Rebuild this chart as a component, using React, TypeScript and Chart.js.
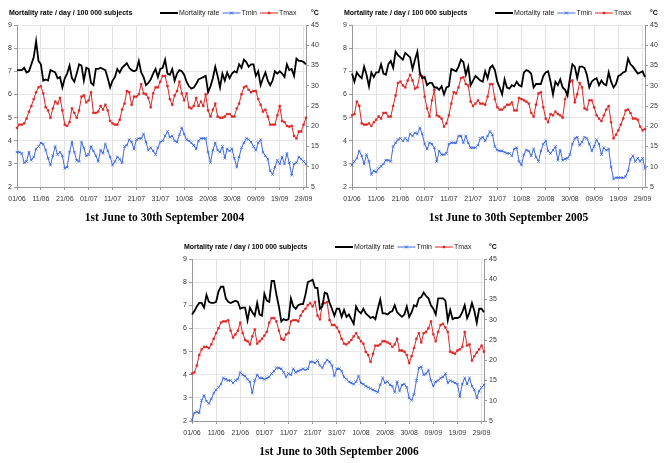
import React, { useEffect, useRef } from "react";
import { Chart, registerables } from "chart.js";

Chart.register(...registerables);

// ---------- categories & ticks ----------
const months: [string, number][] = [["06", 30], ["07", 31], ["08", 31], ["09", 30]];
const categories: string[] = [];
for (const [m, n] of months) {
  for (let d = 1; d <= n; d++) categories.push(`${String(d).padStart(2, "0")}/${m}`);
}
const tickLabels = ["01/06", "11/06", "21/06", "01/07", "11/07", "21/07", "31/07", "10/08", "20/08", "30/08", "09/09", "19/09", "29/09"];
const leftAxis = { min: 2, max: 9, step: 1 };
const rightAxis = { min: 5, max: 45, step: 5 };
const seriesNames = ["Mortality rate", "Tmin", "Tmax"];
const headerText = "Mortality rate / day / 100 000 subjects";
const unitText = "°C";

// ---------- 2004 ----------
const mortality2004 = [
  7.05, 7.05, 7.05, 7.15, 6.95, 7.0, 7.3, 7.6, 8.3, 7.45,
  7.3, 6.6, 6.65, 6.6, 7.05, 7.0, 6.95, 6.7, 6.75, 6.3,
  6.7, 6.9, 7.25, 6.7, 6.55, 6.9, 7.3, 7.25, 6.6, 7.15,
  7.1, 6.5, 6.4, 7.1, 7.1, 7.15, 7.1, 7.05, 6.7, 6.3,
  6.6, 6.75, 7.1, 6.95, 7.15, 7.25, 7.35, 7.15, 7.05, 7.0,
  7.05, 7.45, 6.95, 6.75, 6.4, 6.5, 6.65, 6.9, 7.1, 6.75,
  7.1, 7.15, 7.5, 6.9, 6.85, 7.1, 6.6, 6.9, 7.05, 7.0,
  6.85, 6.55, 6.35, 6.25, 6.3, 6.45, 6.65, 6.7, 6.75, 6.8,
  6.1, 6.35, 6.7, 7.2, 6.8, 6.3, 6.9, 6.6, 6.95, 6.7,
  6.9, 7.0, 6.95, 7.3, 7.15, 7.5, 7.4, 7.2, 7.3, 7.3,
  6.8, 7.0, 6.4, 6.7, 6.95, 6.6, 6.4, 6.6, 7.0, 6.9,
  7.0, 6.9, 6.75, 7.3, 7.05, 7.1, 6.8, 7.55, 7.45, 7.45,
  7.4, 7.3,
];
const tmin2004 = [
  13.6, 13.6, 13.3, 11.0, 11.3, 13.6, 11.6, 12.4, 14.4, 15.0,
  15.9, 15.6, 14.1, 12.1, 10.4, 12.7, 15.0, 13.0, 13.6, 12.7,
  9.6, 9.9, 13.6, 16.1, 13.6, 11.6, 11.3, 16.1, 14.7, 12.7,
  13.0, 15.0, 13.9, 12.7, 11.3, 14.1, 13.3, 15.6, 13.9, 12.4,
  10.4, 11.3, 12.4, 11.9, 11.0, 15.0, 15.3, 16.7, 16.1, 14.4,
  16.7, 17.0, 17.0, 18.1, 16.1, 14.1, 14.7, 13.9, 13.0, 14.7,
  16.1, 16.4, 17.6, 18.7, 17.3, 17.6, 16.4, 16.1, 17.9, 19.6,
  18.1, 16.7, 16.4, 15.9, 15.3, 14.4, 16.4, 17.0, 17.0, 17.0,
  13.6, 11.0, 14.1, 15.9, 14.1, 13.6, 15.0, 12.1, 14.4, 13.9,
  14.4, 12.1, 9.9, 12.4, 14.7, 15.9, 17.0, 16.7, 16.1, 15.0,
  14.1, 15.9, 16.7, 13.6, 12.7, 11.9, 9.0, 8.1, 9.9, 11.6,
  10.7, 12.4, 10.7, 13.3, 11.0, 7.9, 10.7, 11.0, 12.4, 11.9,
  11.3, 10.7,
];
const tmax2004 = [
  19.6, 20.4, 20.4, 20.7, 21.9, 23.6, 25.0, 26.7, 28.4, 29.6,
  29.9, 28.1, 24.7, 23.9, 22.1, 24.4, 26.1, 25.6, 27.0, 23.9,
  20.4, 20.1, 21.0, 24.4, 23.3, 22.1, 23.9, 27.3, 27.6, 25.9,
  26.4, 28.4, 23.3, 23.3, 23.6, 25.0, 24.1, 25.3, 23.9, 21.3,
  20.7, 20.4, 20.4, 21.6, 24.1, 25.6, 28.7, 28.4, 25.3, 27.3,
  27.3, 27.9, 30.4, 28.1, 27.9, 27.0, 24.7, 28.1, 29.6, 29.6,
  31.0, 32.4, 32.4, 29.9, 26.7, 25.3, 27.6, 28.7, 31.0, 28.1,
  26.4, 28.1, 24.7, 24.4, 25.0, 27.0, 25.0, 26.1, 25.0, 27.9,
  23.9, 22.4, 24.1, 25.6, 22.4, 22.1, 22.1, 22.4, 23.0, 23.0,
  22.4, 22.4, 24.4, 25.6, 27.9, 29.6, 29.9, 29.0, 28.4, 28.7,
  28.7, 26.7, 25.3, 23.6, 24.1, 22.4, 20.4, 20.4, 20.4, 22.7,
  25.0, 21.3, 21.0, 20.1, 19.9, 20.1, 17.6, 17.0, 18.7, 18.7,
  20.4, 22.1,
];

// ---------- 2005 ----------
const mortality2005 = [
  6.9, 6.55, 6.95, 6.8, 6.7, 7.2, 6.85, 6.35, 6.95, 6.75,
  6.95, 6.95, 7.3, 6.9, 6.85, 7.3, 7.45, 7.15, 7.85, 7.7,
  7.6, 7.5, 7.8, 7.7, 7.6, 7.1, 7.5, 7.85, 6.95, 6.7,
  6.75, 6.4, 6.5, 6.5, 6.3, 6.3, 6.2, 6.35, 6.0, 6.3,
  6.35, 7.1, 7.05, 7.0, 7.2, 7.5, 7.4, 6.85, 7.2, 6.4,
  6.6, 6.8, 6.7, 6.6, 6.55, 7.0, 6.7, 7.15, 7.25, 7.05,
  6.55, 6.3, 6.0, 6.65, 6.3, 6.25, 6.4, 6.35, 6.55, 6.4,
  6.35, 6.95, 7.05, 7.0, 6.9, 6.3, 6.45, 6.45, 6.45, 6.8,
  6.95, 7.0, 6.55, 6.0, 6.55, 6.4, 6.65, 6.3, 6.2, 5.95,
  6.7, 7.3, 7.2, 6.7, 7.2, 7.2, 7.15, 6.85, 6.3, 6.55,
  6.65, 6.7, 6.4, 6.6, 6.45, 6.4, 6.95, 6.55, 6.3, 6.45,
  6.8, 6.85, 6.95, 7.0, 7.55, 7.3, 7.2, 7.05, 6.9, 6.95,
  7.0, 6.75,
];
const tmin2005 = [
  10.4, 11.3, 12.1, 13.9, 12.7, 10.7, 13.0, 11.3, 8.1, 9.0,
  8.7, 9.6, 10.1, 10.7, 11.6, 11.6, 11.3, 15.0, 15.9, 16.7,
  17.0, 16.4, 17.0, 16.4, 18.1, 17.6, 18.4, 18.1, 19.6, 18.1,
  15.6, 14.4, 15.9, 15.6, 14.7, 11.3, 13.9, 13.0, 13.0, 13.3,
  15.6, 15.9, 15.9, 15.9, 17.6, 17.6, 15.9, 17.6, 15.9, 14.7,
  14.7, 14.7, 15.3, 17.0, 17.3, 16.4, 17.6, 18.7, 17.9, 15.0,
  14.1, 13.9, 13.9, 13.6, 13.3, 13.3, 12.7, 14.4, 14.7, 11.3,
  10.4, 13.0, 14.1, 13.9, 12.7, 14.4, 12.4, 11.3, 13.9, 15.6,
  16.4, 13.9, 13.3, 14.1, 15.0, 11.6, 14.1, 11.6, 11.9, 12.1,
  13.0, 15.6, 17.0, 17.3, 15.3, 16.1, 17.3, 17.0, 15.6, 13.9,
  15.0, 16.7, 15.6, 13.0, 14.7, 14.1, 14.4, 9.9, 7.0, 7.3,
  7.3, 7.3, 7.3, 7.6, 9.0, 11.9, 12.7, 11.3, 12.1, 11.3,
  12.1, 9.6,
];
const tmax2005 = [
  22.7, 23.0, 26.1, 25.0, 20.7, 20.4, 20.4, 20.7, 20.1, 21.0,
  21.6, 22.4, 21.9, 23.3, 23.3, 22.4, 22.4, 25.0, 27.6, 30.7,
  31.0, 30.1, 29.6, 31.3, 32.7, 31.3, 29.3, 29.6, 32.7, 32.4,
  27.3, 24.4, 22.4, 26.4, 29.0, 22.7, 22.4, 21.9, 19.9, 20.7,
  22.7, 25.6, 28.4, 28.1, 29.6, 31.9, 32.1, 30.4, 30.1, 26.1,
  25.0, 25.6, 26.4, 25.6, 25.6, 25.3, 27.3, 30.4, 30.4, 26.7,
  24.7, 24.1, 24.1, 24.7, 25.3, 25.3, 25.9, 23.9, 23.9, 27.0,
  26.7, 26.4, 26.1, 25.6, 23.3, 22.4, 25.3, 28.1, 28.4, 24.7,
  21.9, 21.0, 23.0, 22.7, 23.6, 23.0, 22.7, 22.1, 26.7, 28.4,
  31.0, 31.3, 25.9, 27.9, 30.7, 29.6, 24.4, 24.1, 26.4, 26.4,
  24.7, 22.7, 21.9, 21.3, 22.7, 24.1, 25.0, 21.0, 17.0, 17.9,
  19.0, 20.4, 21.9, 23.9, 24.1, 23.3, 21.9, 21.9, 21.6, 19.9,
  19.0, 19.3,
];

// ---------- 2006 ----------
const mortality2006 = [
  6.6, 6.75, 6.95, 7.1, 7.1, 6.9, 7.45, 7.15, 7.1, 7.1,
  7.15, 7.6, 7.8, 7.8, 7.3, 7.15, 7.1, 7.15, 7.2, 7.15,
  6.85, 6.9, 6.9, 6.35, 6.9, 6.7, 6.55, 7.1, 6.6, 6.55,
  7.5, 7.2, 7.15, 8.05, 8.05, 7.45, 6.95, 6.3, 6.4, 6.35,
  6.4, 7.3, 6.95, 6.85, 7.0, 7.05, 7.05, 7.45, 8.0, 8.05,
  8.1, 7.75, 7.75, 6.85, 6.95, 7.55, 7.5, 7.1, 6.85, 6.55,
  6.85, 6.85, 6.5, 6.8, 6.5, 6.6, 6.4, 6.2, 6.95, 6.75,
  6.65, 6.85, 6.65, 6.55, 6.45, 6.5, 6.4, 6.85, 7.25, 6.65,
  6.65, 6.6, 6.7, 6.75, 7.0, 6.7, 6.6, 6.5, 6.6, 6.95,
  6.5, 6.7, 7.0, 6.95, 7.3, 7.35, 7.55, 7.4, 7.3, 7.0,
  6.85, 6.6, 7.3, 7.3, 7.3, 7.2, 6.35, 6.8, 6.4, 6.45,
  6.45, 6.5, 6.7, 7.0, 6.45, 6.7, 7.1, 6.75, 6.25, 6.85,
  6.85, 6.7,
];
const tmin2006 = [
  5.3, 7.0, 7.3, 7.0, 10.1, 11.3, 9.9, 9.3, 10.4, 11.9,
  12.7, 13.3, 14.1, 15.6, 15.3, 15.0, 15.0, 14.4, 15.0, 15.3,
  17.0, 16.4, 16.1, 15.3, 14.7, 11.9, 15.0, 16.4, 15.6, 15.6,
  15.3, 15.6, 15.9, 16.7, 17.3, 18.1, 18.1, 17.9, 17.0, 15.9,
  16.7, 16.4, 17.9, 17.0, 17.3, 17.6, 17.9, 17.6, 17.9, 19.6,
  19.6, 19.3, 19.9, 18.7, 18.1, 19.3, 20.1, 19.6, 18.7, 16.1,
  17.9, 17.9, 17.3, 15.9, 15.3, 14.7, 14.4, 14.1, 14.7, 16.1,
  14.4, 14.1, 13.6, 13.3, 13.0, 12.7, 12.4, 12.1, 13.9, 15.6,
  14.4, 14.7, 13.9, 13.6, 12.1, 14.7, 12.4, 13.9, 14.1, 13.3,
  10.7, 10.1, 11.6, 15.0, 18.1, 18.4, 16.4, 16.7, 17.6, 15.0,
  13.6, 14.7, 15.0, 15.6, 15.9, 16.7, 14.4, 15.0, 14.7, 14.4,
  14.1, 11.0, 14.1, 15.6, 14.1, 15.6, 13.6, 12.7, 10.7, 12.4,
  13.3, 13.9,
];
const tmax2006 = [
  16.7, 17.0, 18.7, 21.3, 22.7, 23.3, 23.3, 23.0, 23.9, 25.3,
  26.7, 27.9, 29.3, 29.6, 29.6, 29.9, 27.3, 25.6, 26.4, 27.3,
  29.3, 26.7, 25.0, 24.7, 23.9, 25.9, 27.6, 24.1, 24.7, 25.3,
  26.1, 27.0, 29.3, 30.4, 30.4, 29.6, 27.3, 25.3, 25.0, 26.4,
  26.7, 29.6, 29.9, 29.9, 29.6, 31.0, 32.1, 32.7, 33.6, 34.1,
  33.3, 34.4, 31.0, 30.1, 33.9, 34.1, 34.4, 29.9, 28.7, 28.7,
  28.1, 27.0, 25.3, 24.1, 23.9, 24.4, 25.0, 25.9, 26.7, 25.6,
  24.7, 24.1, 22.1, 21.3, 19.6, 21.6, 23.6, 23.6, 23.9, 24.7,
  24.7, 24.4, 24.1, 23.3, 23.9, 25.3, 22.4, 22.4, 22.1, 21.3,
  19.3, 21.0, 23.0, 25.3, 26.7, 24.4, 26.7, 27.0, 27.9, 29.6,
  26.4, 24.7, 27.0, 28.7, 29.0, 28.1, 27.0, 22.1, 21.9, 21.6,
  22.4, 22.7, 23.3, 27.0, 23.6, 23.9, 19.9, 21.0, 21.9, 22.7,
  23.6, 22.1,
];

const titles = ["1st June to 30th September 2004", "1st June to 30th September 2005", "1st June to 30th September 2006"];

const SANS = "'Liberation Sans', Arial, sans-serif";
const SERIF = "'Liberation Serif', 'Times New Roman', serif";
const COLORS = { mort: "#000000", tmin: "#3d68e0", tmax: "#e02424" };

type PanelProps = {
  left: number; top: number; width: number; height: number;
  plotLeft: number; plotRight: number; plotTop: number; plotBottom: number;
  titleX: number; title: string;
  mortality: number[]; tmin: number[]; tmax: number[];
};

const overlayPlugin = {
  id: "overlay",
  afterDraw(chart: any, _args: any, opts: any) {
    const { ctx, chartArea } = chart;
    const y = chartArea.top - 12;
    ctx.save();
    ctx.textBaseline = "middle";
    ctx.textAlign = "left";
    ctx.fillStyle = "#000";
    ctx.font = `bold 7px ${SANS}`;
    ctx.fillText(headerText, chartArea.left - 8, y);
    // legend
    let x = chartArea.left + 143;
    chart.data.datasets.forEach((ds: any, i: number) => {
      ctx.strokeStyle = ds.borderColor;
      ctx.lineWidth = i === 0 ? 2 : 1;
      ctx.beginPath();
      ctx.moveTo(x, y);
      ctx.lineTo(x + 18, y);
      ctx.stroke();
      const cx = x + 9;
      if (i === 1) {
        ctx.beginPath();
        ctx.moveTo(cx - 1.5, y - 1.5); ctx.lineTo(cx + 1.5, y + 1.5);
        ctx.moveTo(cx - 1.5, y + 1.5); ctx.lineTo(cx + 1.5, y - 1.5);
        ctx.stroke();
      } else if (i === 2) {
        ctx.fillStyle = ds.borderColor;
        ctx.fillRect(cx - 1.2, y - 1.2, 2.4, 2.4);
      }
      ctx.fillStyle = "#222";
      ctx.font = `7px ${SANS}`;
      ctx.fillText(ds.label, x + 19, y);
      x += 19 + ctx.measureText(ds.label).width + 3;
    });
    ctx.fillStyle = "#000";
    ctx.font = `bold 7px ${SANS}`;
    ctx.fillText(unitText, chartArea.right + 5, y);
    // title
    ctx.font = `bold 11.5px ${SERIF}`;
    ctx.textAlign = "center";
    ctx.fillText(opts.title, opts.titleX, chartArea.bottom + 31);
    ctx.restore();
  },
};

function Panel(p: PanelProps) {
  const ref = useRef<HTMLCanvasElement | null>(null);
  useEffect(() => {
    if (!ref.current) return;
    const LW = 12, RW = 16, XH = 16;
    const chart = new Chart(ref.current, {
      type: "line",
      data: {
        labels: categories,
        datasets: [
          {
            label: seriesNames[0], data: p.mortality, yAxisID: "y",
            borderColor: COLORS.mort, borderWidth: 1.8, pointRadius: 0, tension: 0,
          },
          {
            label: seriesNames[1], data: p.tmin, yAxisID: "y1",
            borderColor: COLORS.tmin, backgroundColor: COLORS.tmin, borderWidth: 1,
            pointStyle: "crossRot", pointRadius: 1.8, pointBorderWidth: 0.9, tension: 0,
          },
          {
            label: seriesNames[2], data: p.tmax, yAxisID: "y1",
            borderColor: COLORS.tmax, backgroundColor: COLORS.tmax, borderWidth: 1,
            pointStyle: "rect", pointRadius: 1.3, pointBorderWidth: 0.5, tension: 0,
          },
        ],
      },
      options: {
        animation: false,
        responsive: false,
        maintainAspectRatio: false,
        layout: {
          padding: {
            left: p.plotLeft - p.left - LW,
            right: p.left + p.width - p.plotRight - RW,
            top: p.plotTop - p.top,
            bottom: p.top + p.height - p.plotBottom - XH,
          },
        },
        plugins: {
          legend: { display: false },
          tooltip: { enabled: false },
          title: { display: false },
          overlay: { title: p.title, titleX: p.titleX - p.left },
        } as any,
        scales: {
          x: {
            type: "category",
            offset: false,
            afterFit: (s: any) => { s.height = XH; },
            grid: {
              color: (c: any) => (c.index % 10 === 0 && c.index > 0 ? "#e2e2e2" : "rgba(0,0,0,0)"),
              tickColor: (c: any) => (c.index % 10 === 0 ? "#999" : "rgba(0,0,0,0)"),
              tickLength: 3,
              drawOnChartArea: true,
            },
            border: { color: "#999", width: 1 },
            ticks: {
              autoSkip: false,
              maxRotation: 0,
              minRotation: 0,
              padding: 5,
              color: "#333",
              font: { size: 7, family: SANS },
              callback: (_v: any, i: number) => (tickLabels.includes(categories[i]) ? categories[i] : ""),
            },
          },
          y: {
            position: "left",
            min: leftAxis.min, max: leftAxis.max,
            afterFit: (s: any) => { s.width = LW; },
            grid: { color: "#e6e6e6", tickColor: "#999", tickLength: 3 },
            border: { color: "#999", width: 1 },
            ticks: { stepSize: leftAxis.step, padding: 2, color: "#333", font: { size: 7, family: SANS } },
          },
          y1: {
            position: "right",
            min: rightAxis.min, max: rightAxis.max,
            afterFit: (s: any) => { s.width = RW; },
            grid: { drawOnChartArea: false, tickColor: "#999", tickLength: 3 },
            border: { color: "#999", width: 1 },
            ticks: { stepSize: rightAxis.step, padding: 2, color: "#333", font: { size: 7, family: SANS } },
          },
        },
      },
      plugins: [overlayPlugin],
    });
    return () => chart.destroy();
  }, []);
  return (
    <canvas
      ref={ref}
      width={p.width}
      height={p.height}
      style={{ position: "absolute", left: p.left, top: p.top, width: p.width, height: p.height }}
    />
  );
}

export default function App() {
  return (
    <div style={{ position: "fixed", left: 0, top: 0, width: 664, height: 463, background: "#fff", overflow: "hidden" }}>
      <Panel left={0} top={0} width={330} height={230} plotLeft={17} plotRight={306} plotTop={25} plotBottom={187}
        titleX={164.5} title={titles[0]} mortality={mortality2004} tmin={tmin2004} tmax={tmax2004} />
      <Panel left={332} top={0} width={332} height={230} plotLeft={352} plotRight={645} plotTop={25} plotBottom={187}
        titleX={508.5} title={titles[1]} mortality={mortality2005} tmin={tmin2005} tmax={tmax2005} />
      <Panel left={160} top={230} width={340} height={233} plotLeft={192} plotRight={484} plotTop={259} plotBottom={421}
        titleX={339} title={titles[2]} mortality={mortality2006} tmin={tmin2006} tmax={tmax2006} />
    </div>
  );
}
